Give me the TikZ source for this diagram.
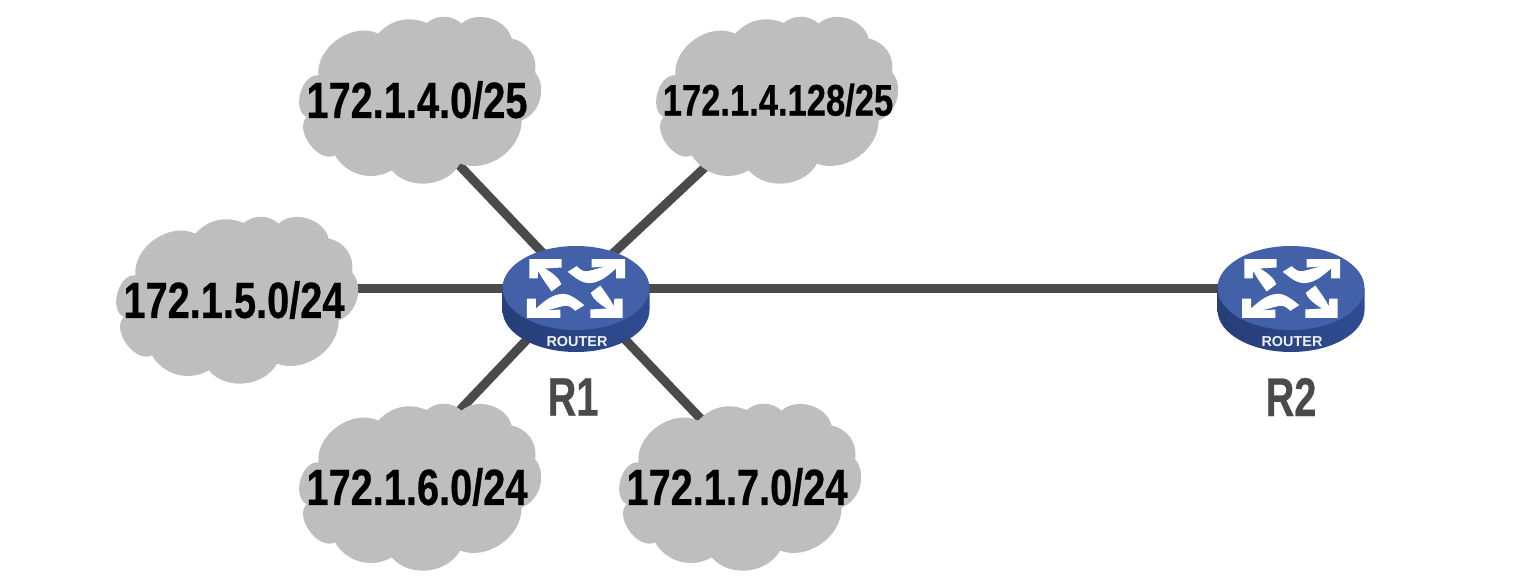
\documentclass[tikz,border=0pt]{standalone}
\usepackage{fontspec}
\newfontfamily\netfont[FakeStretch=0.78,FakeBold=0.5]{Liberation Sans Bold}
\newfontfamily\namefont[FakeStretch=0.73,FakeBold=0.5]{Liberation Sans Bold}
\setsansfont{Liberation Sans}
\usepackage{tikz}
\usetikzlibrary{positioning,shapes.geometric,backgrounds}
\definecolor{cloudgray}{HTML}{BEBEBE}
\definecolor{linegray}{HTML}{4A4A4A}
\definecolor{routertop}{HTML}{4361A9}
\definecolor{routerside}{HTML}{2F4C92}
\tikzset{
  cloudspot/.style={inner sep=0pt,minimum size=0pt,outer sep=0pt},
  netlabel/.style={font=\netfont\fontsize{29}{32}\selectfont,text=black,inner sep=0pt,xshift=-0.06cm},
  netlabelsmall/.style={netlabel,font=\netfont\fontsize{25.2}{28}\selectfont,xshift=0.08cm},
  netline/.style={line width=0.18cm,color=linegray},
  routerdisc/.style={ellipse,fill=routertop,minimum width=2.94cm,minimum height=1.68cm,inner sep=0pt},
  routername/.style={font=\namefont\fontsize{31}{34}\selectfont,text=linegray,inner sep=0pt},
  routertag/.style={font=\sffamily\bfseries\fontsize{8.2}{9}\selectfont,text=white!90!routertop,inner sep=0pt}
}
% cloud: name, x, y, label style, text
\newcommand{\netcloud}[5]{
  \begin{scope}[shift={(#2,#3)},x=0.00667cm,y=0.00667cm]
    \fill[cloudgray] (-305,74) to[bend left=60] (-125,199) to[bend left=35] (20,231)
      to[bend left=40] (125,229) to[bend left=60] (275,184) to[bend left=45] (345,84)
      to[bend left=55] (305,-61) to[bend left=55] (120,-191) to[bend left=55] (-85,-211)
      to[bend left=45] (-255,-166) to[bend left=80] (-340,-51) to[bend left=80] (-305,74) -- cycle;
  \end{scope}
  \node[cloudspot,label={[#4]center:#5}] (#1) at (#2,#3) {};
}
% router: name, x, y
\newcommand{\routerbox}[3]{
  \shade[left color=routerside!82!black,right color=routerside] (#2-1.47,#3-0.44) -- (#2-1.47,#3) -- (#2+1.47,#3) -- (#2+1.47,#3-0.44)
    arc[start angle=0,end angle=-180,x radius=1.47,y radius=0.84] -- cycle;
  \node[routerdisc] (#1) at (#2,#3) {};
  \node[routertag] (#1tag) at (#2+0.02,#3-1.08) {ROUTER};
  \foreach \ang in {0,180}{
    \begin{scope}[shift={(#2,#3-0.01)},rotate=\ang,x=0.00667cm,y=-0.00667cm]
      % bent arrow, upper left
      \fill[white] (-140,-88) -- (-43,-88) -- (-43,-63) -- (-93,-60)
        .. controls (-68,-45) and (-50,-30) .. (-44,-13) -- (-73,9)
        .. controls (-90,-15) and (-105,-35) .. (-113,-53) -- (-115,-30) -- (-140,-30) -- cycle;
      % bent arrow, upper right
      \fill[white] (47,-88) -- (147,-88) -- (147,-30) -- (120,-30) -- (120,-60)
        .. controls (90,-33) and (70,-18) .. (40,-16)
        .. controls (15,-16) and (-5,-35) .. (-25,-50) -- (2,-67)
        .. controls (15,-54) and (25,-50) .. (35,-52)
        .. controls (55,-56) and (75,-64) .. (92,-66) -- (47,-63) -- cycle;
    \end{scope}
  }
}
\begin{document}
\begin{tikzpicture}
  \useasboundingbox (0,0) rectangle (30.56,11.68);
  %--------------- clouds ---------------
  \netcloud{netforty}{8.4}{9.68}{netlabel}{172.1.4.0/25}
  \netcloud{nethigh}{15.54}{9.68}{netlabelsmall}{172.1.4.128/25}
  \netcloud{netfifty}{4.74}{5.68}{netlabel}{172.1.5.0/24}
  \netcloud{netsixty}{8.4}{1.94}{netlabel}{172.1.6.0/24}
  \netcloud{netseventy}{14.8}{1.94}{netlabel}{172.1.7.0/24}
  %--------------- routers ---------------
  \routerbox{rone}{11.52}{5.92}
  \routerbox{rtwo}{25.82}{5.92}
  \node[routername] (ronename) at (11.46,3.74) {R1};
  \node[routername] (rtwoname) at (25.82,3.74) {R2};
  %--------------- free ends of the links ---------------
  \coordinate (endforty) at (8.4,9.2);
  \coordinate (endfifty) at (4.74,5.92);
  \coordinate (endsixty) at (8.4,2.64);
  \coordinate (endseventy) at (14.8,2.48);
  %--------------- links ---------------
  \begin{scope}[on background layer]
    \draw[netline] (rone.center) -- (endforty);
    \draw[netline] (rone.center) -- (nethigh.center);
    \draw[netline] (rone.center) -- (endfifty);
    \draw[netline] (rone.center) -- (endsixty);
    \draw[netline] (rone.center) -- (endseventy);
    \draw[netline] (rone.center) -- (rtwo.center);
  \end{scope}
\end{tikzpicture}
\end{document}
